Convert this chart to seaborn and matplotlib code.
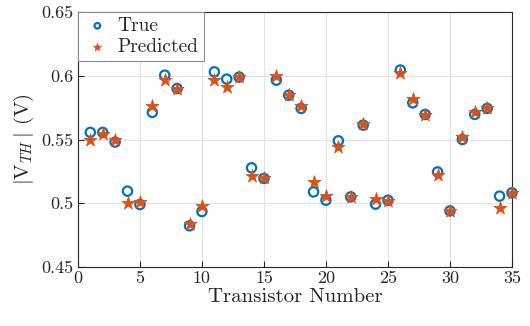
import matplotlib
matplotlib.use("Agg")
import matplotlib.pyplot as plt
import seaborn as sns
import pandas as pd
import numpy as np
from matplotlib.ticker import FixedLocator, FuncFormatter

transistor = list(range(1, 36))
true_vth = [0.5556, 0.5556, 0.548, 0.5095, 0.499, 0.5713, 0.6005, 0.590, 0.4823, 0.4935,
            0.6031, 0.5974, 0.599, 0.5278, 0.5195, 0.5966, 0.5848, 0.5744, 0.5089, 0.5024,
            0.549, 0.505, 0.5613, 0.4993, 0.5024, 0.6045, 0.5788, 0.5697, 0.5246, 0.494,
            0.550, 0.5697, 0.5744, 0.5056, 0.5082]
pred_vth = [0.5495, 0.554, 0.550, 0.5003, 0.501, 0.5762, 0.5966, 0.590, 0.4836, 0.498,
            0.5966, 0.5909, 0.599, 0.5213, 0.520, 0.600, 0.585, 0.576, 0.5168, 0.5056,
            0.5443, 0.505, 0.562, 0.503, 0.502, 0.6019, 0.5815, 0.569, 0.522, 0.494,
            0.552, 0.5717, 0.575, 0.4959, 0.5077]
x_ticks = [0, 5, 10, 15, 20, 25, 30, 35]
y_ticks = [0.45, 0.5, 0.55, 0.6, 0.65]

sns.set_theme(style="whitegrid")
plt.rcParams["font.family"] = ["cmr10", "DejaVu Serif"]
plt.rcParams["mathtext.fontset"] = "cm"
plt.rcParams["axes.formatter.use_mathtext"] = True

blue = "#0072BD"
orange = "#D95319"

df_true = pd.DataFrame({"Transistor": transistor, "V": true_vth})
df_pred = pd.DataFrame({"Transistor": transistor, "V": pred_vth})

fig = plt.figure(figsize=(5.3, 3.26), dpi=100)
ax = fig.add_axes([0.147, 0.181, 0.819, 0.782])

sns.scatterplot(data=df_true, x="Transistor", y="V", ax=ax, marker="o",
                s=45, facecolors="none", edgecolor=blue, linewidth=1.6,
                label="True", zorder=3, clip_on=False)
sns.scatterplot(data=df_pred, x="Transistor", y="V", ax=ax, marker="*",
                s=95, color=orange, edgecolor=orange, linewidth=0.6,
                label="Predicted", zorder=4, clip_on=False)
ax.collections[0].set_facecolor("none")
ax.collections[0].set_edgecolor(blue)

ax.set_xlim(0, 35)
ax.set_ylim(0.45, 0.65)
ax.xaxis.set_major_locator(FixedLocator(x_ticks))
ax.yaxis.set_major_locator(FixedLocator(y_ticks))
ax.yaxis.set_major_formatter(FuncFormatter(lambda v, p: f"{v:g}"))
ax.xaxis.set_major_formatter(FuncFormatter(lambda v, p: f"{v:g}"))

ax.set_facecolor("white")
ax.grid(True, color="#e3e3e3", linewidth=0.8)
for sp in ax.spines.values():
    sp.set_visible(True)
    sp.set_color("#262626")
    sp.set_linewidth(0.8)
ax.tick_params(direction="in", length=4, width=0.8, colors="#262626",
               labelsize=13, top=False, right=False, bottom=True, left=True, pad=3)
for lab in ax.get_xticklabels() + ax.get_yticklabels():
    lab.set_color("#262626")

ax.set_xlabel("Transistor Number", fontsize=15, color="#262626", labelpad=1)
ax.set_ylabel(r"$|\mathrm{V}_{TH}\,|$ (V)", fontsize=15, color="#262626", labelpad=4)

leg = ax.legend(loc="upper left", fontsize=14, frameon=True, fancybox=False,
                borderpad=0.25, handletextpad=0.3, labelspacing=0.15,
                borderaxespad=0.0, handlelength=1.5, markerscale=0.6)
leg.get_frame().set_edgecolor("#8a8a8a")
leg.get_frame().set_linewidth(0.8)
leg.get_frame().set_alpha(1)
for t in leg.get_texts():
    t.set_color("#262626")

fig.savefig("out.png", dpi=100)
